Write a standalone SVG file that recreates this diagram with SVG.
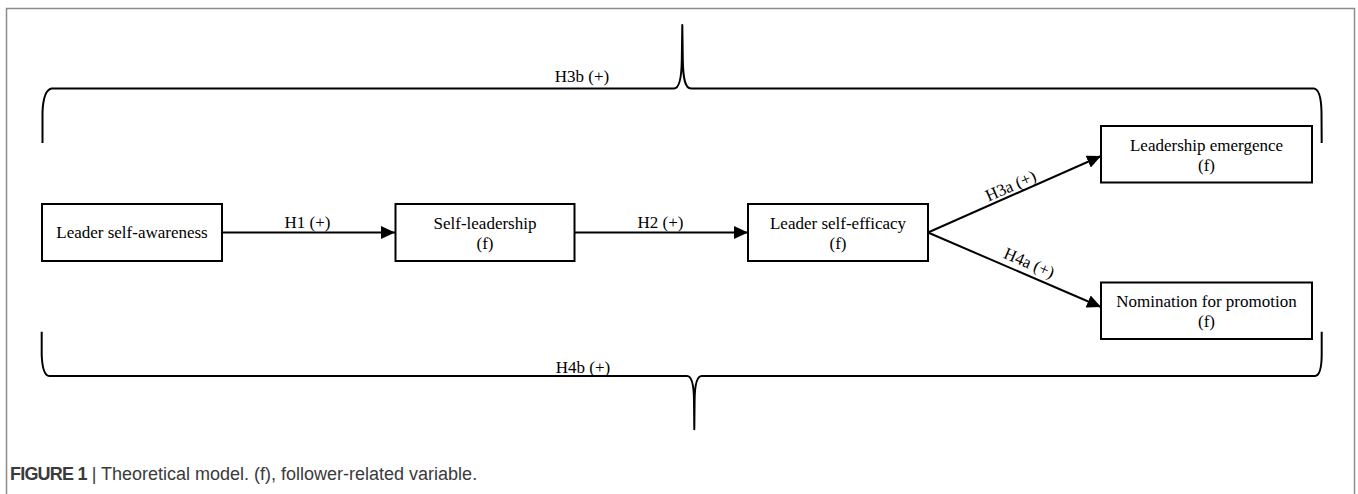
<svg xmlns="http://www.w3.org/2000/svg" width="1358" height="494" viewBox="0 0 1358 494">
<style>
.box{fill:#fff;stroke:#000;stroke-width:2}
.t{font-family:"Liberation Serif","Times New Roman",serif;font-size:17px;fill:#000;text-anchor:middle}
.conn{stroke:#000;stroke-width:2;fill:none}
.brace{stroke:#000;stroke-width:2;fill:none;stroke-linejoin:round}
.cap{font-family:"Liberation Sans",Arial,sans-serif;font-size:18px;fill:#3a3a3a}
</style>
<defs>
<marker id="ah" markerUnits="userSpaceOnUse" markerWidth="15" markerHeight="14" refX="14" refY="6.5" orient="auto">
<path d="M0,0 L14,6.5 L0,13 z" fill="#000"/>
</marker>
</defs>
<rect x="6.5" y="8.5" width="1348" height="500" fill="#fff" stroke="#8c8c8c" stroke-width="1.5"/>
<g id="braces">
<path class="brace" d="M42.5,143 L42.5,112 Q43.5,90 51.5,88.5 L674,88.5 C679,88.5 681.5,80 681.8,60 L682.3,25 L682.8,60 C683.1,80 685.5,88.5 691,88.5 L1314,88.5 Q1321,89.5 1321.5,112 L1321.7,143"/>
<text class="t" x="582" y="82">H3b (+)</text>
<path class="brace" d="M41.7,331.7 L41.7,355 Q42.5,375.5 49.3,376 L687,376 C691.5,376 693.8,385 694,400 L694.3,429.3 L694.6,400 C694.8,385 697,376 701.7,376 L1315,376 Q1321.5,375.5 1321.7,355 L1321.7,331.7"/>
<text class="t" x="583" y="373">H4b (+)</text>
</g>
<g id="connectors">
<line class="conn" x1="222" y1="232.5" x2="395" y2="232.5" marker-end="url(#ah)"/>
<text class="t" x="307.5" y="228">H1 (+)</text>
<line class="conn" x1="575" y1="232.5" x2="748" y2="232.5" marker-end="url(#ah)"/>
<text class="t" x="660.5" y="228">H2 (+)</text>
<line class="conn" x1="928" y1="232.5" x2="1101" y2="156" marker-end="url(#ah)"/>
<text class="t" transform="translate(1013,191) rotate(-23.7)">H3a (+)</text>
<line class="conn" x1="928" y1="232.5" x2="1101" y2="307" marker-end="url(#ah)"/>
<text class="t" transform="translate(1027,268) rotate(23.4)">H4a (+)</text>
</g>
<g id="n1">
<rect class="box" x="42" y="204" width="180" height="57"/>
<text class="t" x="132" y="238">Leader self-awareness</text>
</g>
<g id="n2">
<rect class="box" x="395.5" y="204" width="179" height="57"/>
<text class="t" x="485" y="229">Self-leadership</text>
<text class="t" x="485" y="249">(f)</text>
</g>
<g id="n3">
<rect class="box" x="748" y="204" width="180" height="57"/>
<text class="t" x="838" y="229">Leader self-efficacy</text>
<text class="t" x="838" y="249">(f)</text>
</g>
<g id="n4">
<rect class="box" x="1101" y="126" width="211" height="56.5"/>
<text class="t" x="1206.5" y="151">Leadership emergence</text>
<text class="t" x="1206.5" y="171">(f)</text>
</g>
<g id="n5">
<rect class="box" x="1101" y="282.5" width="211" height="56.5"/>
<text class="t" x="1206.5" y="307">Nomination for promotion</text>
<text class="t" x="1206.5" y="327">(f)</text>
</g>
<g id="caption">
<text class="cap" x="10" y="480"><tspan font-weight="bold" letter-spacing="-0.8">FIGURE 1</tspan> | Theoretical model. (f), follower-related variable.</text>
</g>
</svg>
